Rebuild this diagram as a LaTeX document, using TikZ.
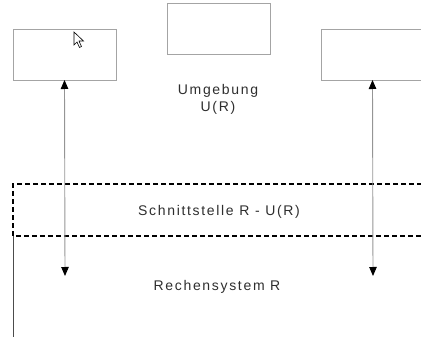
\documentclass[tikz,border=0pt]{standalone}
\usepackage{fontspec}
\setmainfont{Liberation Sans}
\usetikzlibrary{arrows.meta}
\definecolor{boxgray}{HTML}{A4A4A4}
\definecolor{linegray}{HTML}{959595}
\definecolor{textgray}{HTML}{2E2E2E}
\tikzset{
  unitbox/.style={draw=boxgray, line width=1pt, minimum width=103pt, minimum height=51pt, inner sep=0pt},
  label/.style={text=textgray, font=\fontsize{14}{17}\selectfont\addfontfeatures{LetterSpace=12}, inner sep=0pt, align=center},
  flow/.style={draw=linegray, line width=0.9pt, {Triangle[width=7.5pt,length=9pt,color=black]}-{Triangle[width=7.5pt,length=9pt,color=black]}},
  iface/.style={draw=black, line width=1.3pt, dash pattern=on 5pt off 3pt}
}
\begin{document}
\begin{tikzpicture}[x=1pt, y=-1pt]
  \useasboundingbox (0,0) rectangle (421,337);
  \clip (0,0) rectangle (421,337);
  % surrounding units
  \node[unitbox] (left)   at (64.5,55.5)  {};
  \node[unitbox] (middle) at (218.5,29.5) {};
  \node[unitbox] (right)  at (372.5,55.5) {};
  % interface band (open to the right)
  \draw[iface] (430,184) -- (13,184) -- (13,236) -- (430,236);
  % system boundary
  \coordinate (sysTop) at (13,236);
  \coordinate (sysBot) at (13,340);
  \draw[draw=black!70, line width=0.9pt] (sysTop) -- (sysBot);
  % labels
  \node[label] (umg) at (218,91) {Umgebung};
  \node[label] (ur)  at (218,108) {U(R)};
  \node[label] (sst) at (219,212) {Schnittstelle R - U(R)};
  \node[label] (rs)  at (217,287) {Rechensystem R};
  % exchange arrows
  \coordinate (leftEnd)  at (65,276);
  \coordinate (rightEnd) at (373,276);
  \draw[flow] ([yshift=1.5pt]left.south) -- (leftEnd);
  \draw[flow] ([yshift=1.5pt]right.south) -- (rightEnd);
  % mouse pointer
  \draw[black, fill=white, line width=0.6pt, line join=miter]
    (74,32) -- (74,45) -- (77,42) -- (79.5,47.5) -- (81.5,46.5) -- (79,41) -- (83.5,41) -- cycle;
\end{tikzpicture}
\end{document}
